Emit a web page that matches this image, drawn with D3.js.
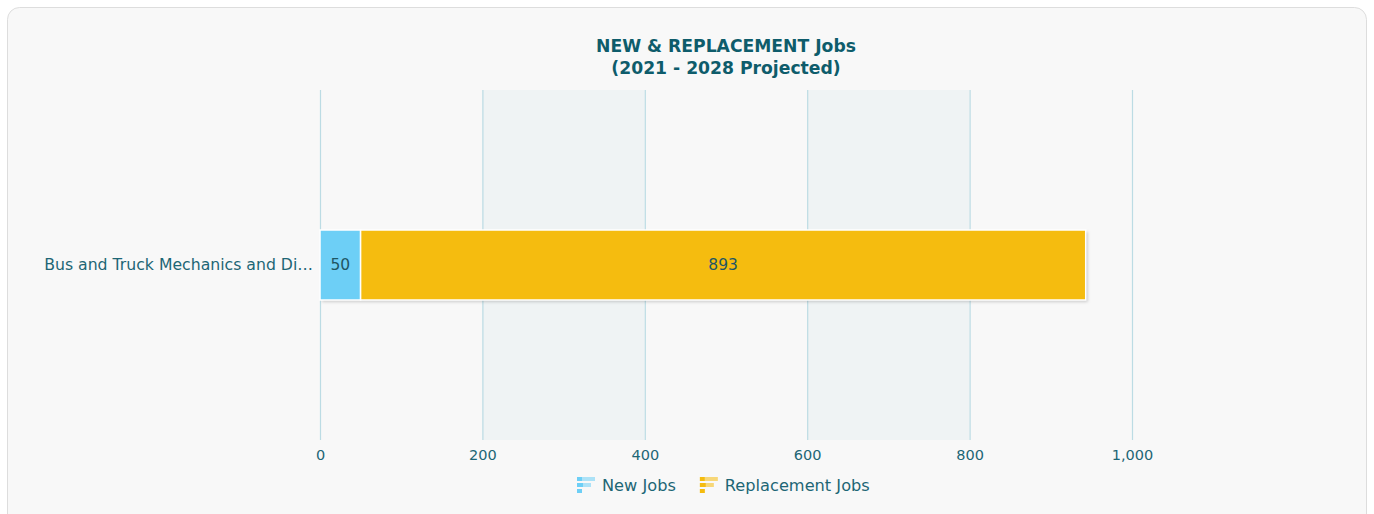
<!DOCTYPE html>
<html>
<head>
<meta charset="utf-8">
<script src="https://cdn.jsdelivr.net/npm/d3@7"></script>
<style>
  body { margin: 0; background: #ffffff; font-family: "DejaVu Sans", Verdana, sans-serif; }
  #chart { position: absolute; left: 7px; top: 7px; }
</style>
</head>
<body>
<div id="chart"></div>
<script>
// chart data
const categories = ['Bus and Truck Mechanics and Diesel Engine Specialists'];
const newJobs = [50];
const replacementJobs = [893];
const seriesNames = ['New Jobs', 'Replacement Jobs'];
const seriesColors = ['#6dcff6', '#f5bc0f'];
const tickValues = [0, 200, 400, 600, 800, 1000];

const cfg = {
  width: 1360,
  height: 515,
  margin: {top: 83, right: 235, bottom: 82, left: 313}
};

const W = cfg.width - cfg.margin.left - cfg.margin.right;
const H = cfg.height - cfg.margin.top - cfg.margin.bottom;
const textColor = '#1d6675';

const svg = d3.select('#chart').append('svg')
  .attr('width', cfg.width)
  .attr('height', cfg.height);

const defs = svg.append('defs');
const shadow = defs.append('filter').attr('id', 'shadow')
  .attr('x', '-5%').attr('y', '-20%').attr('width', '115%').attr('height', '150%');
shadow.append('feDropShadow')
  .attr('dx', 2).attr('dy', 2).attr('stdDeviation', 1.5)
  .attr('flood-color', '#000').attr('flood-opacity', 0.18);

// card background
svg.append('rect')
  .attr('x', 0.5).attr('y', 0.5)
  .attr('width', cfg.width - 1).attr('height', cfg.height + 10)
  .attr('rx', 12).attr('ry', 12)
  .attr('fill', '#f8f8f8')
  .attr('stroke', '#dddddd');

// title
svg.append('text')
  .attr('x', 719).attr('y', 45)
  .attr('text-anchor', 'middle')
  .attr('font-size', 17.2).attr('font-weight', 'bold')
  .attr('fill', '#0e5c6b')
  .text('NEW & REPLACEMENT Jobs');
svg.append('text')
  .attr('x', 719).attr('y', 67)
  .attr('text-anchor', 'middle')
  .attr('font-size', 17.2).attr('font-weight', 'bold')
  .attr('fill', '#0e5c6b')
  .text('(2021 - 2028 Projected)');

const g = svg.append('g')
  .attr('transform', `translate(${cfg.margin.left},${cfg.margin.top})`);

const x = d3.scaleLinear().domain([0, 1000]).range([0, W]);
const y = d3.scaleBand().domain(categories).range([0, H]).paddingInner(0).paddingOuter(0);

// alternating bands
const bands = d3.pairs(tickValues).filter((p, i) => i % 2 === 1);
g.selectAll('.band')
  .data(bands)
  .enter().append('rect')
  .attr('class', 'band')
  .attr('x', d => x(d[0]))
  .attr('width', d => x(d[1]) - x(d[0]))
  .attr('y', 0).attr('height', H)
  .attr('fill', '#eff3f4');

// grid lines
g.selectAll('.grid')
  .data(tickValues)
  .enter().append('line')
  .attr('class', 'grid')
  .attr('x1', d => x(d) + 0.5).attr('x2', d => x(d) + 0.5)
  .attr('y1', 0).attr('y2', H)
  .attr('stroke', '#bcdce4').attr('stroke-width', 1.2);

// x axis
const xAxis = g.append('g')
  .attr('transform', `translate(0,${H})`)
  .call(d3.axisBottom(x).tickValues(tickValues).tickSize(0).tickPadding(10).tickFormat(d3.format(',')));
xAxis.select('.domain').remove();
xAxis.selectAll('text')
  .attr('font-family', '"DejaVu Sans", Verdana, sans-serif')
  .attr('font-size', 14.5)
  .attr('fill', textColor);

// stacked data
const rows = categories.map((c, i) => ({cat: c, values: [newJobs[i], replacementJobs[i]]}));
const barH = y.bandwidth() * 0.2;

rows.forEach(row => {
  const yc = y(row.cat) + y.bandwidth() / 2;
  let start = 0;
  const segs = row.values.map((v, j) => {
    const s = {x0: start, x1: start + v, v: v, color: seriesColors[j]};
    start += v;
    return s;
  });

  const bg = g.append('g');
  bg.append('rect')
    .attr('x', x(0)).attr('width', x(start) - x(0))
    .attr('y', yc - barH / 2).attr('height', barH)
    .attr('fill', '#fff')
    .attr('filter', 'url(#shadow)');

  bg.selectAll('.seg')
    .data(segs)
    .enter().append('rect')
    .attr('class', 'seg')
    .attr('x', d => x(d.x0))
    .attr('width', d => x(d.x1) - x(d.x0))
    .attr('y', yc - barH / 2).attr('height', barH)
    .attr('fill', d => d.color)
    .attr('stroke', '#ffffff').attr('stroke-width', 1.5);

  bg.selectAll('.val')
    .data(segs)
    .enter().append('text')
    .attr('x', d => (x(d.x0) + x(d.x1)) / 2)
    .attr('y', yc)
    .attr('dy', '0.35em')
    .attr('text-anchor', 'middle')
    .attr('font-size', 15.5)
    .attr('fill', '#1f5664')
    .text(d => d3.format(',')(d.v));

  // category label, truncated with ellipsis
  const lbl = g.append('text')
    .attr('x', -7).attr('y', yc).attr('dy', '0.35em')
    .attr('text-anchor', 'end')
    .attr('font-size', 15.7)
    .attr('fill', textColor)
    .text(row.cat);
  const maxW = 272;
  let txt = row.cat;
  while (lbl.node().getComputedTextLength() > maxW && txt.length > 1) {
    txt = txt.slice(0, -1);
    lbl.text(txt.trimEnd() + '…');
  }
});

// legend
const legendItems = seriesNames.map((n, i) => ({name: n, color: seriesColors[i]}));
const legend = svg.append('g').attr('transform', 'translate(570,468)');
let lx = 0;
legendItems.forEach(item => {
  const li = legend.append('g').attr('transform', `translate(${lx},0)`);
  li.append('rect').attr('x', 0).attr('y', 2).attr('width', 5).attr('height', 4).attr('fill', item.color);
  li.append('rect').attr('x', 5).attr('y', 2).attr('width', 13).attr('height', 4).attr('fill', item.color).attr('opacity', 0.55);
  li.append('rect').attr('x', 0).attr('y', 8).attr('width', 6).attr('height', 4).attr('fill', item.color);
  li.append('rect').attr('x', 6).attr('y', 8).attr('width', 8).attr('height', 4).attr('fill', item.color).attr('opacity', 0.55);
  li.append('rect').attr('x', 0).attr('y', 14).attr('width', 5).attr('height', 4).attr('fill', item.color);
  const t = li.append('text')
    .attr('x', 25).attr('y', 10).attr('dy', '0.35em')
    .attr('font-size', 16.2)
    .attr('fill', textColor)
    .text(item.name);
  lx += 25 + t.node().getComputedTextLength() + 24;
});
</script>
</body>
</html>
